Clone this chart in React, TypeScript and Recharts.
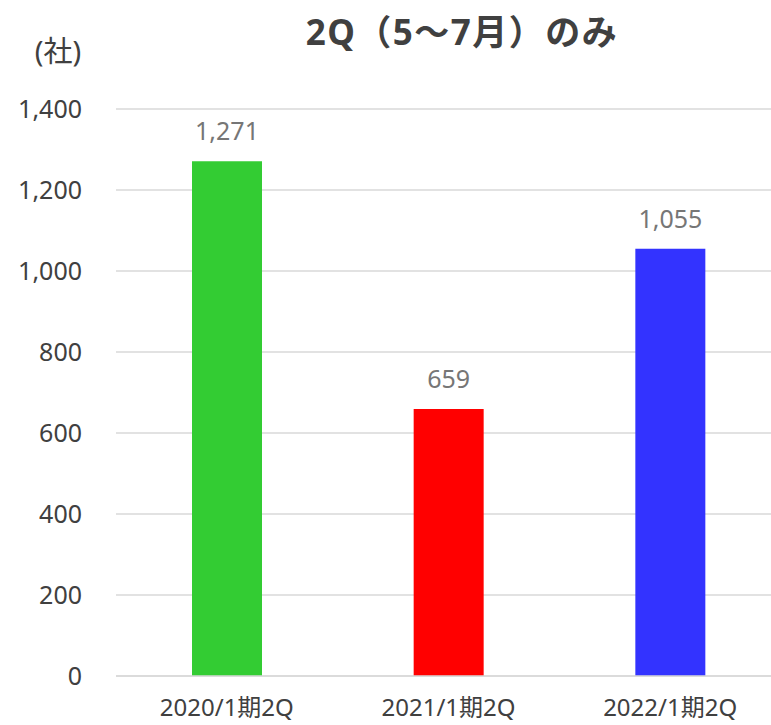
import React from "react";
import { Bar, BarChart, CartesianGrid, Cell, LabelList, XAxis, YAxis } from "recharts";

const categories = ["2020/1期2Q", "2021/1期2Q", "2022/1期2Q"];
const values = [1271, 659, 1055];
const barColors = ["#33CC33", "#FF0000", "#3333FF"];
const yTicks = [0, 200, 400, 600, 800, 1000, 1200, 1400];

const data = categories.map((name, i) => ({ name, value: values[i] }));

const font = '"Noto Sans", "Noto Sans CJK JP", sans-serif';
const fmt = (v: number) => v.toLocaleString("en-US");

export default function App() {
  return (
    <div style={{ position: "absolute", left: 0, top: 0, width: 771, height: 725, overflow: "hidden", background: "#fff" }}>
      <svg width={771} height={80} style={{ position: "absolute", left: 0, top: 0 }}>
        <text x={462} y={45} textAnchor="middle" fontFamily={font} fontSize={35} fontWeight={700} letterSpacing={1.5} fill="#404040">
          2Q（5～7月）のみ
        </text>
        <text x={58} y={62} textAnchor="middle" fontFamily={font} fontSize={29} fill="#404040">
          (社)
        </text>
      </svg>
      <BarChart width={781} height={725} data={data} margin={{ top: 109, right: 0, bottom: 0, left: 0 }}>
        <CartesianGrid vertical={false} stroke="#d9d9d9" strokeWidth={1.5} />
        <XAxis
          dataKey="name"
          height={49}
          tickLine={false}
          tickSize={0}
          tickMargin={23}
          axisLine={{ stroke: "#d9d9d9", strokeWidth: 1.5 }}
          tick={{ fill: "#404040", fontSize: 24, fontFamily: font }}
          interval={0}
        />
        <YAxis
          width={116}
          domain={[0, 1400]}
          ticks={yTicks}
          tickFormatter={fmt}
          axisLine={false}
          tickLine={false}
          tickSize={0}
          tickMargin={34}
          tick={{ fill: "#404040", fontSize: 25, fontFamily: font }}
        />
        <Bar dataKey="value" barSize={70} isAnimationActive={false}>
          {data.map((d, i) => (
            <Cell key={d.name} fill={barColors[i]} />
          ))}
          <LabelList dataKey="value" position="top" offset={21} formatter={(v: any) => fmt(Number(v))} fill="#767676" fontSize={25} fontFamily={font} />
        </Bar>
      </BarChart>
    </div>
  );
}
